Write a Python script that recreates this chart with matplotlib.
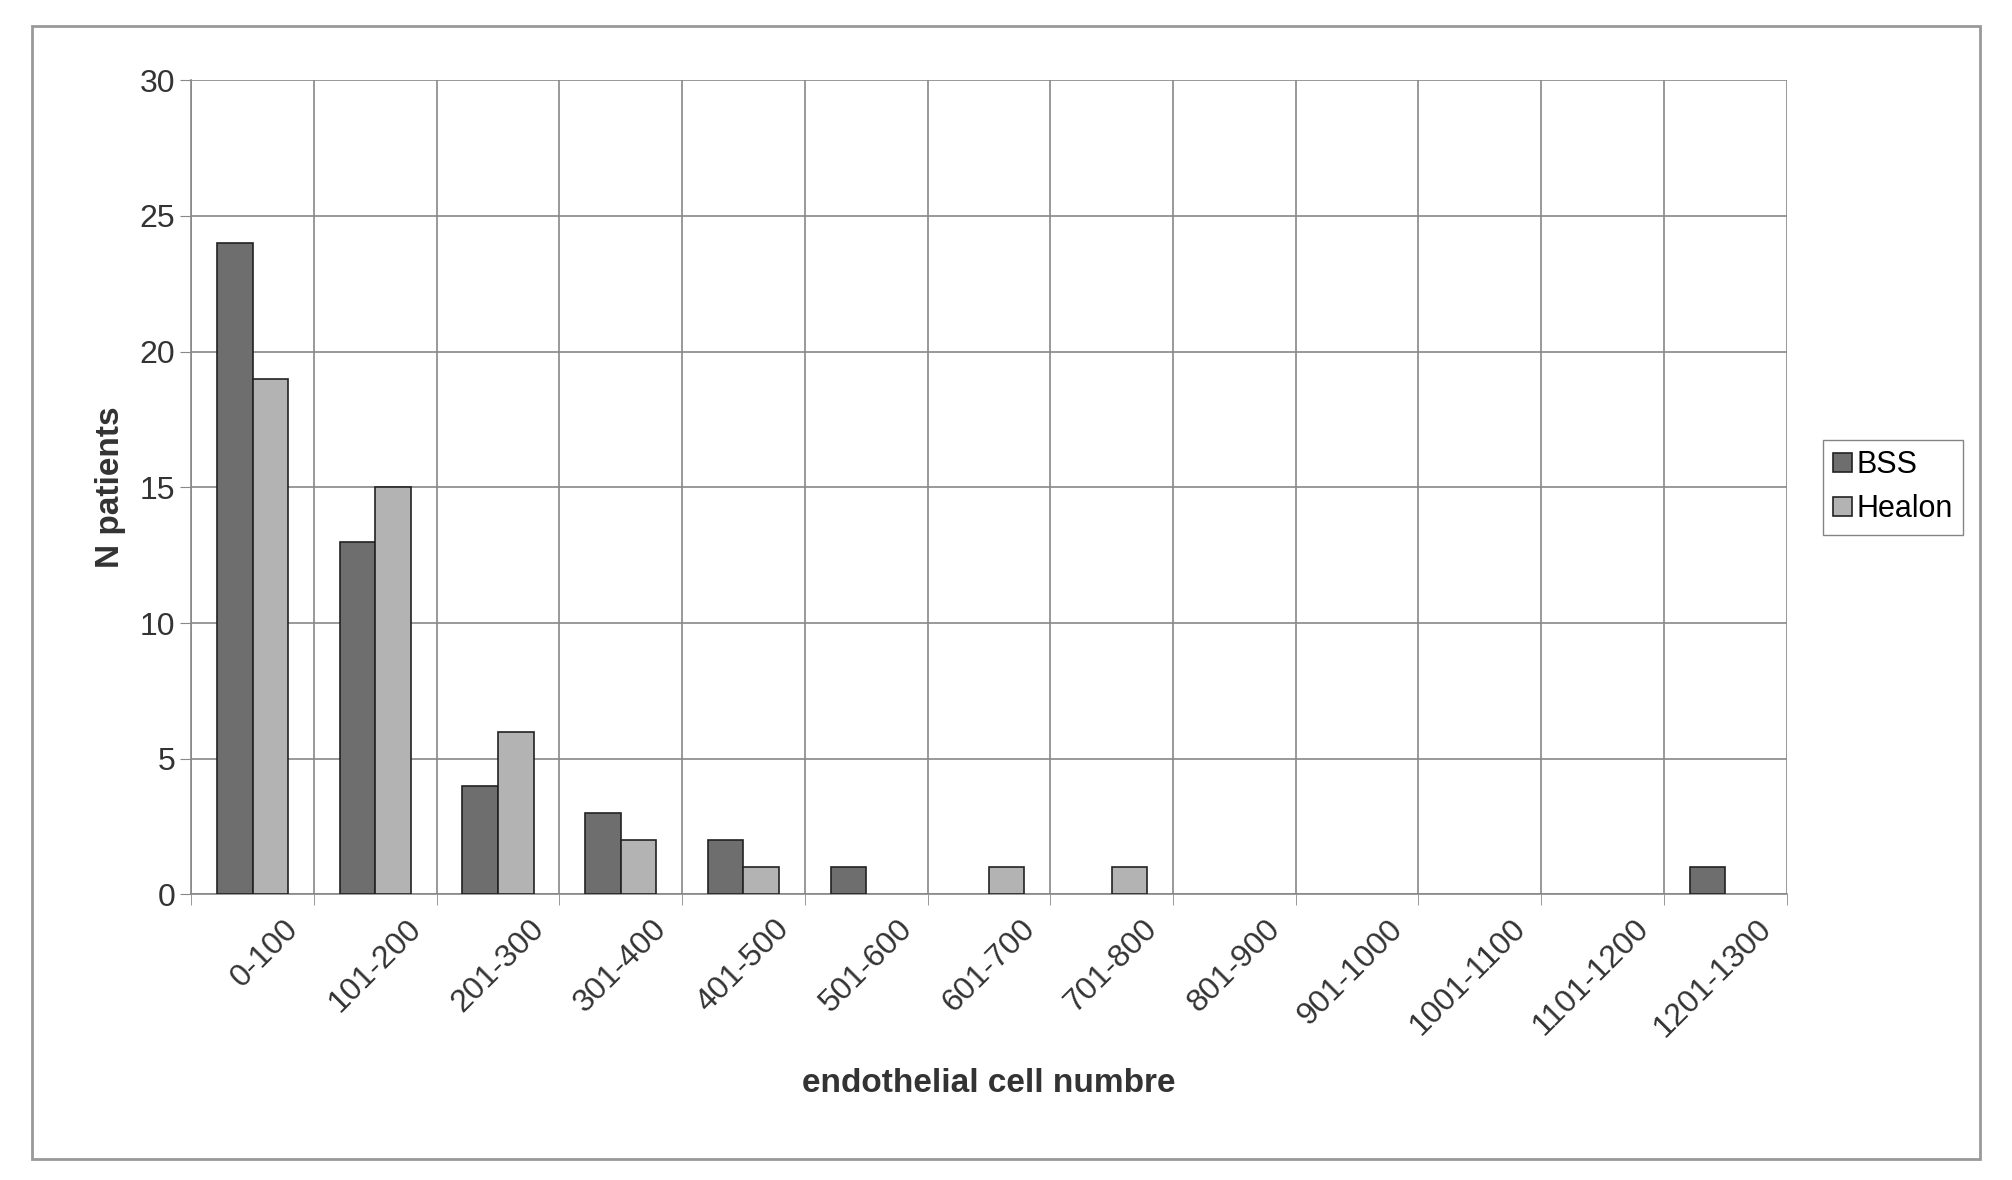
import matplotlib.pyplot as plt
import numpy as np
from matplotlib.patches import Rectangle

categories = ["0-100", "101-200", "201-300", "301-400", "401-500", "501-600",
              "601-700", "701-800", "801-900", "901-1000", "1001-1100",
              "1101-1200", "1201-1300"]
bss = [24, 13, 4, 3, 2, 1, 0, 0, 0, 0, 0, 0, 1]
healon = [19, 15, 6, 2, 1, 0, 1, 1, 0, 0, 0, 0, 0]

plt.rcParams['font.family'] = ['Liberation Sans', 'DejaVu Sans']

fig = plt.figure(figsize=(20.12, 11.8), dpi=100)
fig.patches.append(Rectangle((0.016, 0.018), 0.968, 0.96, transform=fig.transFigure,
                             fill=False, edgecolor='#999999', linewidth=2))
ax = fig.add_axes([0.095, 0.242, 0.793, 0.690])

x = np.arange(len(categories))
w = 0.29
for i in x:
    if bss[i] > 0:
        ax.bar(i - w / 2, bss[i], w, color='#6e6e6e', edgecolor='#222222', linewidth=1.2,
               label='BSS' if i == 0 else None, zorder=3)
    if healon[i] > 0:
        ax.bar(i + w / 2, healon[i], w, color='#b3b3b3', edgecolor='#222222', linewidth=1.2,
               label='Healon' if i == 0 else None, zorder=3)

ax.set_xlim(-0.5, len(categories) - 0.5)
ax.set_ylim(0, 30)
ax.set_yticks(range(0, 31, 5))
ax.set_xticks(x + 0.25)
ax.set_xticklabels(categories, rotation=45, ha='right', rotation_mode='anchor', fontsize=23,
                   color='#333333')
ax.set_xticks(np.arange(-0.5, len(categories)), minor=True)
ax.tick_params(axis='x', which='major', length=0, pad=14)
ax.tick_params(axis='x', which='minor', length=8, color='#888888')
ax.tick_params(axis='y', labelsize=23, labelcolor='#333333', color='#888888', length=8)
ax.grid(True, which='minor', axis='x', color='#888888', linewidth=1.2)
ax.grid(True, which='major', axis='y', color='#888888', linewidth=1.2)
for s in ['top', 'right']:
    ax.spines[s].set_visible(False)
for s in ['left', 'bottom']:
    ax.spines[s].set_color('#888888')
    ax.spines[s].set_linewidth(1.2)

ax.set_ylabel('N patients', fontsize=24, fontweight='bold', color='#333333', labelpad=10)
ax.set_xlabel('endothelial cell numbre', fontsize=24, fontweight='bold', color='#333333',
              labelpad=18)

ax.legend(loc='center left', bbox_to_anchor=(1.013, 0.5), fontsize=22, fancybox=False,
          edgecolor='#666666', handlelength=0.6, handleheight=0.6, handletextpad=0.15,
          borderpad=0.35, labelspacing=0.45)

fig.savefig('out.png', dpi=100)
